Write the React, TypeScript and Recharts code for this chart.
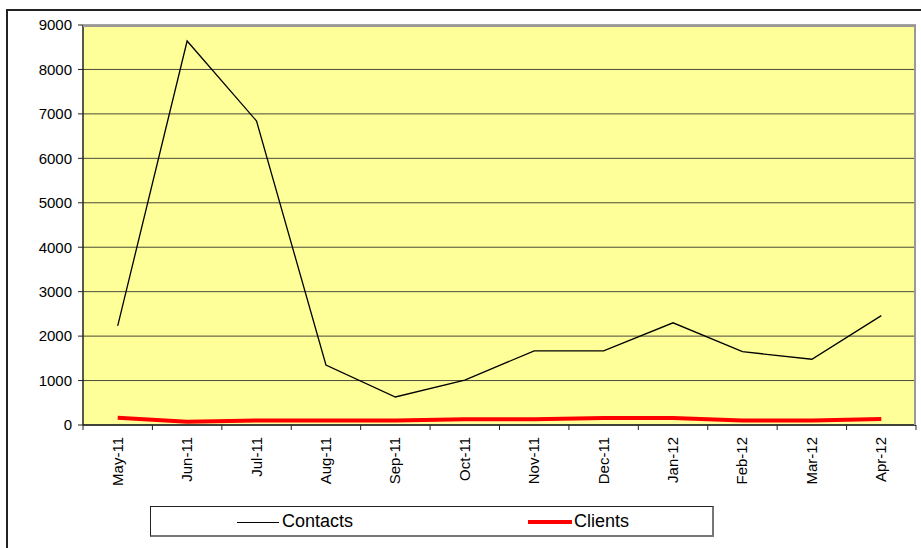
import React from "react";
import { LineChart, Line, XAxis, YAxis, CartesianGrid } from "recharts";

const months = ["May-11", "Jun-11", "Jul-11", "Aug-11", "Sep-11", "Oct-11", "Nov-11", "Dec-11", "Jan-12", "Feb-12", "Mar-12", "Apr-12"];
const contacts = [2230, 8640, 6840, 1350, 630, 1010, 1670, 1670, 2300, 1650, 1480, 2460];
const clients = [165, 75, 100, 100, 100, 130, 130, 160, 160, 100, 100, 135];
const yTicks = [0, 1000, 2000, 3000, 4000, 5000, 6000, 7000, 8000, 9000];

const data = months.map((m, i) => ({ month: m, Contacts: contacts[i], Clients: clients[i] }));

const W = 921;
const H = 548;
const M = { top: 25, right: 5, bottom: 0, left: 0 };
const Y_W = 83;
const X_H = 123;
const FONT = "'Liberation Sans', Arial, sans-serif";
const PLOT_W = W - M.left - M.right - Y_W;
const BAND = PLOT_W / months.length;

const XTick = (props: any) => {
  const { x, y, payload, index } = props;
  const left = x - BAND / 2;
  return (
    <g>
      <line x1={left} y1={y - 8} x2={left} y2={y - 3} stroke="#222" strokeWidth={1} />
      {index === months.length - 1 && (
        <line x1={x + BAND / 2} y1={y - 8} x2={x + BAND / 2} y2={y - 3} stroke="#222" strokeWidth={1} />
      )}
      <text
        x={0}
        y={0}
        transform={`translate(${x + 5},${y + 4}) rotate(-90)`}
        textAnchor="end"
        fontSize={15}
        fontFamily={FONT}
        fill="#000"
      >
        {payload.value}
      </text>
    </g>
  );
};

export default function App() {
  return (
    <div style={{ position: "fixed", left: 0, top: 0, width: W, height: H, background: "#fff", overflow: "hidden" }}>
      <div
        style={{
          position: "absolute",
          left: 6,
          top: 9,
          width: W + 20,
          height: H + 20,
          borderLeft: "2px solid #222",
          borderTop: "2px solid #222",
        }}
      />
      <div style={{ position: "absolute", left: 0, top: 0 }}>
        <LineChart width={W} height={H} data={data} margin={M}>
          <CartesianGrid vertical={false} stroke="#4a4a3a" strokeWidth={1} fill="#FFFF99" />
          <XAxis
            dataKey="month"
            height={X_H}
            interval={0}
            padding={{ left: BAND / 2, right: BAND / 2 }}
            tickLine={false}
            axisLine={{ stroke: "#222", strokeWidth: 1.5 }}
            tick={<XTick />}
          />
          <YAxis
            width={Y_W}
            domain={[0, 9000]}
            ticks={yTicks}
            interval={0}
            tickSize={5}
            tickMargin={6}
            axisLine={{ stroke: "#222", strokeWidth: 1.5 }}
            tickLine={{ stroke: "#222" }}
            tick={{ fontSize: 15, fontFamily: FONT, fill: "#000" }}
          />
          <Line type="linear" dataKey="Contacts" stroke="#000" strokeWidth={1.3} dot={false} isAnimationActive={false} />
          <Line type="linear" dataKey="Clients" stroke="#FF0000" strokeWidth={4} dot={false} isAnimationActive={false} />
        </LineChart>
      </div>
      <div
        style={{
          position: "absolute",
          left: 83,
          top: 25,
          width: PLOT_W,
          height: 400,
          borderTop: "2px solid #999",
          borderRight: "2px solid #999",
          boxSizing: "border-box",
          pointerEvents: "none",
        }}
      />
      <div
        style={{
          position: "absolute",
          left: 150,
          top: 506,
          width: 564,
          height: 31,
          border: "1.5px solid #222",
          borderRight: "2px solid #777",
          borderBottom: "2px solid #777",
          boxSizing: "border-box",
          background: "#fff",
          fontFamily: FONT,
          fontSize: 18,
        }}
      >
        <div style={{ position: "absolute", left: 86, top: 15, width: 42, height: 0, borderTop: "1.5px solid #000" }} />
        <div style={{ position: "absolute", left: 131, top: 4, lineHeight: "20px" }}>Contacts</div>
        <div style={{ position: "absolute", left: 377, top: 13, width: 44, height: 4, background: "#FF0000" }} />
        <div style={{ position: "absolute", left: 423, top: 4, lineHeight: "20px" }}>Clients</div>
      </div>
    </div>
  );
}
